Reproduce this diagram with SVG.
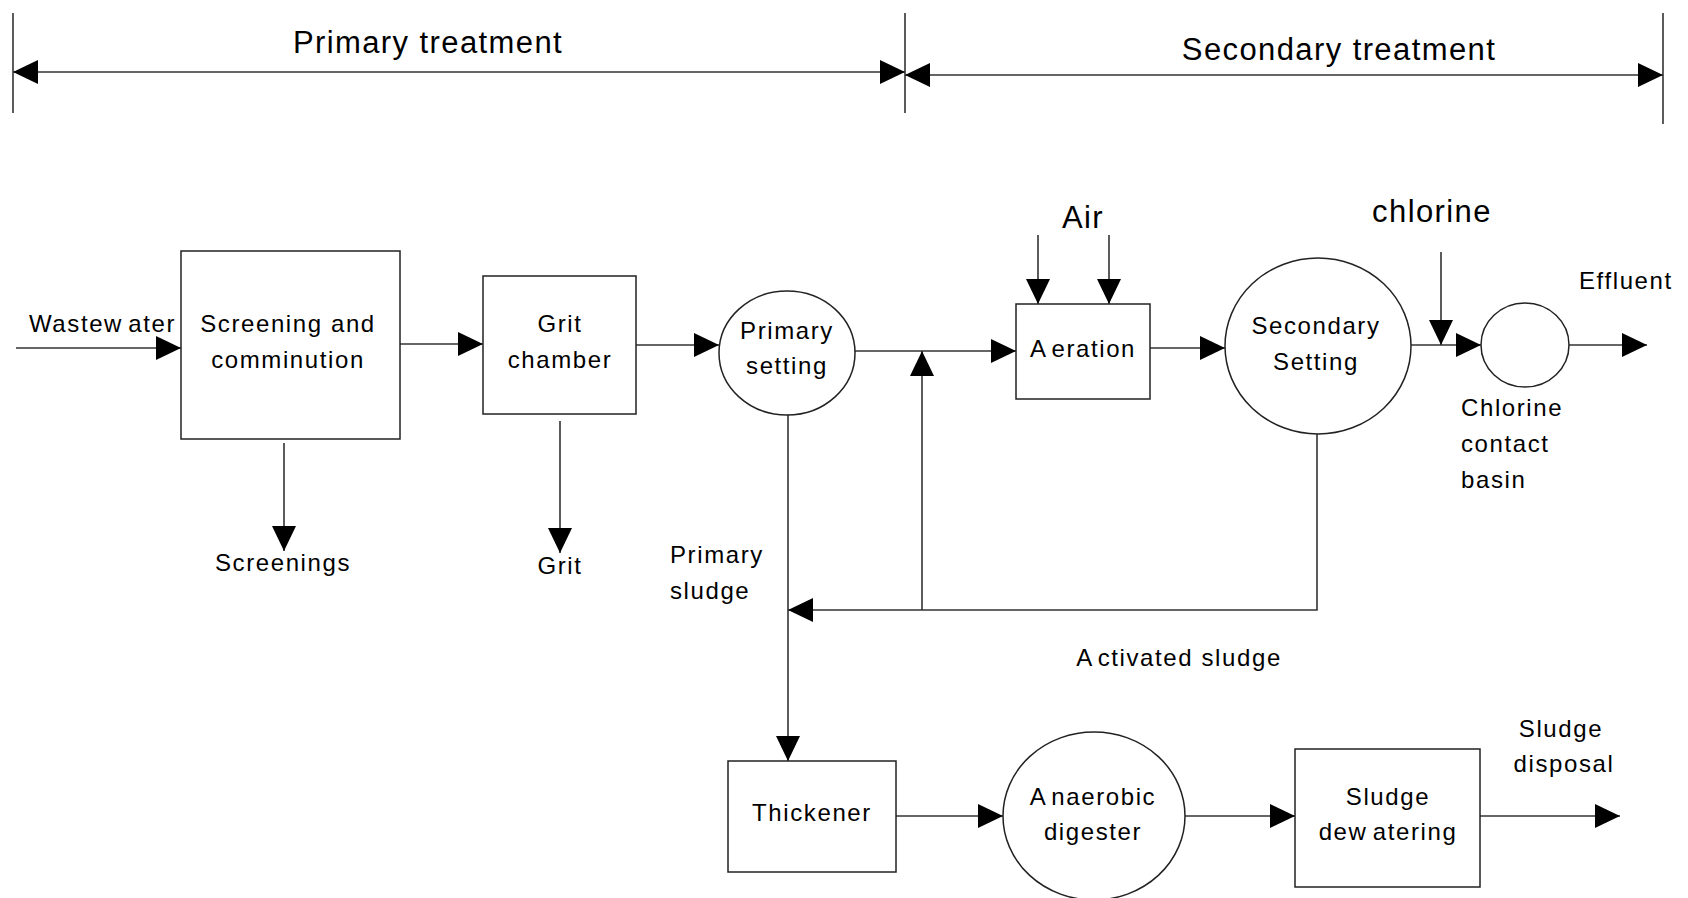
<svg xmlns="http://www.w3.org/2000/svg" width="1688" height="898" viewBox="0 0 1688 898">
<style>
text{font-family:"Liberation Sans",Arial,sans-serif;fill:#000;}
.lbl{font-size:24px;letter-spacing:1.6px;text-anchor:middle;}
.lbl-l{font-size:24px;letter-spacing:1.6px;}
.big{font-size:31px;letter-spacing:1.4px;text-anchor:middle;}
.split{word-spacing:-3px;}
.shape{fill:#fff;stroke:#222;stroke-width:1.5;}
.ln{fill:none;stroke:#333;stroke-width:1.6;}
.arr{fill:none;stroke:#333;stroke-width:1.6;marker-end:url(#ah);}
</style>
<defs>
<marker id="ah" markerUnits="userSpaceOnUse" markerWidth="26" markerHeight="26" refX="25" refY="12" orient="auto">
<path d="M0,0 L25,12 L0,24 z" fill="#000"/>
</marker>
<marker id="ahs" markerUnits="userSpaceOnUse" markerWidth="26" markerHeight="26" refX="0" refY="12" orient="auto">
<path d="M25,0 L0,12 L25,24 z" fill="#000"/>
</marker>
</defs>
<rect width="1688" height="898" fill="#fff"/>

<g id="phases">
<line class="ln" x1="13" y1="13" x2="13" y2="113"/>
<line class="ln" x1="905" y1="13" x2="905" y2="113"/>
<line class="ln" x1="1663" y1="13" x2="1663" y2="124"/>
<line class="arr" x1="13" y1="72" x2="905" y2="72" style="marker-start:url(#ahs)"/>
<line class="arr" x1="905" y1="75" x2="1663" y2="75" style="marker-start:url(#ahs)"/>
<text class="big" x="428" y="53">Primary treatment</text>
<text class="big" x="1339" y="60">Secondary treatment</text>
</g>

<g id="connectors">
<line class="arr" x1="16" y1="348" x2="181" y2="348"/>
<line class="arr" x1="400" y1="344" x2="483" y2="344"/>
<line class="arr" x1="636" y1="345" x2="719" y2="345"/>
<line class="arr" x1="855" y1="351" x2="1016" y2="351"/>
<line class="arr" x1="922" y1="610" x2="922" y2="351"/>
<line class="arr" x1="1038" y1="235" x2="1038" y2="304"/>
<line class="arr" x1="1109" y1="235" x2="1109" y2="304"/>
<line class="arr" x1="1150" y1="348" x2="1225" y2="348"/>
<line class="arr" x1="1410" y1="345" x2="1481" y2="345"/>
<line class="arr" x1="1441" y1="252" x2="1441" y2="345"/>
<line class="arr" x1="1568" y1="345" x2="1647" y2="345"/>
<line class="arr" x1="284" y1="443" x2="284" y2="551"/>
<line class="arr" x1="560" y1="421" x2="560" y2="553"/>
<line class="arr" x1="788" y1="415" x2="788" y2="761"/>
<path class="arr" d="M1317,434 V610 H788"/>
<line class="arr" x1="896" y1="816" x2="1003" y2="816"/>
<line class="arr" x1="1184" y1="816" x2="1295" y2="816"/>
<line class="arr" x1="1480" y1="816" x2="1620" y2="816"/>
</g>

<g id="screening">
<rect class="shape" x="181" y="251" width="219" height="188"/>
<text class="lbl" x="288" y="332">Screening and</text>
<text class="lbl" x="288" y="368">comminution</text>
</g>
<g id="grit-chamber">
<rect class="shape" x="483" y="276" width="153" height="138"/>
<text class="lbl" x="560" y="332">Grit</text>
<text class="lbl" x="560" y="368">chamber</text>
</g>
<g id="primary-setting">
<ellipse class="shape" cx="787" cy="353" rx="68" ry="62"/>
<text class="lbl" x="787" y="339">Primary</text>
<text class="lbl" x="787" y="374">setting</text>
</g>
<g id="aeration">
<rect class="shape" x="1016" y="304" width="134" height="95"/>
<text class="lbl split" x="1083" y="357">A eration</text>
</g>
<g id="secondary-setting">
<ellipse class="shape" cx="1318" cy="346" rx="93" ry="88"/>
<text class="lbl" x="1316" y="334">Secondary</text>
<text class="lbl" x="1316" y="370">Setting</text>
</g>
<g id="chlorine-basin">
<ellipse class="shape" cx="1525" cy="345" rx="44" ry="42"/>
<text class="lbl-l" x="1461" y="416">Chlorine</text>
<text class="lbl-l" x="1461" y="452">contact</text>
<text class="lbl-l" x="1461" y="488">basin</text>
</g>
<g id="thickener">
<rect class="shape" x="728" y="761" width="168" height="111"/>
<text class="lbl" x="812" y="821">Thickener</text>
</g>
<g id="digester">
<ellipse class="shape" cx="1094" cy="816" rx="91" ry="84"/>
<text class="lbl split" x="1093" y="805">A naerobic</text>
<text class="lbl" x="1093" y="840">digester</text>
</g>
<g id="dewatering">
<rect class="shape" x="1295" y="749" width="185" height="138"/>
<text class="lbl" x="1388" y="805">Sludge</text>
<text class="lbl split" x="1388" y="840">dew atering</text>
</g>

<g id="labels">
<text class="lbl-l split" x="29" y="332">Wastew ater</text>
<text class="big" x="1083" y="228">Air</text>
<text class="big" x="1432" y="222">chlorine</text>
<text class="lbl-l" x="1579" y="289">Effluent</text>
<text class="lbl" x="283" y="571">Screenings</text>
<text class="lbl" x="560" y="574">Grit</text>
<text class="lbl-l" x="670" y="563">Primary</text>
<text class="lbl-l" x="670" y="599">sludge</text>
<text class="lbl" x="1179" y="666"><tspan class="split">A ctivated</tspan> sludge</text>
<text class="lbl" x="1561" y="737">Sludge</text>
<text class="lbl" x="1564" y="772">disposal</text>
</g>
</svg>
